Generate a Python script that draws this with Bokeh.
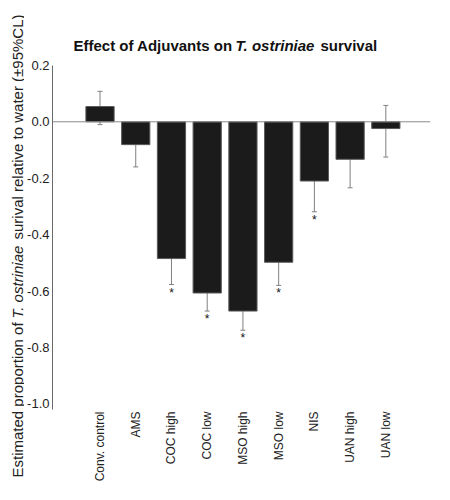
import math
from bokeh.plotting import figure
from bokeh.layouts import row
from bokeh.models import (ColumnDataSource, FixedTicker, Span, Whisker, TeeHead,
                          NumeralTickFormatter, Range1d)
from bokeh.core.properties import value
from bokeh.embed import file_html
from bokeh.resources import INLINE

categories = ["Conv. control", "AMS", "COC high", "COC low", "MSO high",
              "MSO low", "NIS", "UAN high", "UAN low"]
estimate = [0.054, -0.081, -0.485, -0.607, -0.671, -0.498, -0.210, -0.133, -0.024]
lower_cl = [-0.010, -0.160, -0.577, -0.671, -0.739, -0.580, -0.319, -0.234, -0.125]
upper_cl = [0.108, -0.014, -0.380, -0.525, -0.525, -0.403, -0.105, -0.041, 0.058]
significant = [False, False, True, True, True, True, True, False, False]
y_ticks = [0.2, 0.0, -0.2, -0.4, -0.6, -0.8, -1.0]

title_parts = ["Effect of Adjuvants on", "T. ostriniae", "survival"]
title_styles = ["bold", "bold italic", "bold"]
ylabel_parts = ["Estimated proportion of", "T. ostriniae",
                "surival relative to water (\u00b195%CL)"]
ylabel_styles = ["normal", "italic", "normal"]

FONT = "Liberation Sans"
TOTAL_H = 484
YL_W = 24
MAIN_W = 410
X_START, X_END = -1.33, 9.25
Y_START, Y_END = -1.02, 0.43

# --- y-axis title strip (positions are layout pixels, y measured upward) ---
yf = figure(frame_width=YL_W, frame_height=TOTAL_H, output_backend="svg",
            toolbar_location=None, title=None,
            x_axis_location=None, y_axis_location=None,
            x_range=Range1d(0, YL_W), y_range=Range1d(0, TOTAL_H),
            min_border=0, min_border_left=0, min_border_right=0,
            min_border_top=0, min_border_bottom=0)
yf.outline_line_color = None
yf.xgrid.visible = False
yf.ygrid.visible = False
yf.text(x=[17, 17, 17], y=[7, 166, 245], text=ylabel_parts,
        angle=math.pi / 2, text_font=value(FONT), text_font_size="15px",
        text_font_style=ylabel_styles, text_color="#222222",
        text_baseline="alphabetic", text_align="left")

# --- main chart ---
idx = list(range(len(categories)))
src = ColumnDataSource(dict(x=idx, top=estimate, lower=lower_cl, upper=upper_cl,
                            cat=categories))
sig_src = ColumnDataSource(dict(
    x=[i for i, s in zip(idx, significant) if s],
    y=[l for l, s in zip(lower_cl, significant) if s],
    t=["*" for s in significant if s]))

p = figure(width=MAIN_W, height=TOTAL_H, output_backend="svg",
           toolbar_location=None, title=None,
           x_range=Range1d(X_START, X_END), y_range=Range1d(Y_START, Y_END),
           min_border_left=25, min_border_right=4, min_border_top=0,
           min_border_bottom=75)
p.outline_line_color = None
p.xgrid.visible = False
p.ygrid.visible = False
p.background_fill_color = "white"
p.border_fill_color = "white"

p.add_layout(Span(location=0, dimension="width", line_color="#8a8a8a", line_width=1))

p.vbar(x="x", top="top", bottom=0, width=0.79, source=src,
       fill_color="#1b1b1b", line_color="#5a5a5a", line_width=1)

wh = Whisker(base="x", lower="lower", upper="upper", source=src,
             line_color="#808080", line_width=1,
             upper_head=TeeHead(size=5, line_color="#808080", line_width=1),
             lower_head=TeeHead(size=5, line_color="#808080", line_width=1))
p.add_layout(wh)

p.text(x="x", y="y", text="t", source=sig_src, text_align="center",
       text_baseline="top", y_offset=1, text_font_size="12px",
       text_color="#111111", text_font=value(FONT))

# chart title, anchored at the frame's top-left corner with pixel offsets
p.text(x=[X_START] * 3, y=[Y_END] * 3, x_offset=[21, 183, 268],
       y_offset=[45, 45, 45], text=title_parts, text_font=value(FONT),
       text_font_size="15px", text_font_style=title_styles,
       text_color="#111111", text_baseline="alphabetic", text_align="left")

p.yaxis.bounds = (-1.02, 0.2)
p.yaxis.ticker = FixedTicker(ticks=y_ticks)
p.yaxis.formatter = NumeralTickFormatter(format="0.0")
p.yaxis.major_tick_line_color = None
p.yaxis.minor_tick_line_color = None
p.yaxis.major_tick_out = 0
p.yaxis.major_tick_in = 0
p.yaxis.minor_tick_out = 0
p.yaxis.axis_line_color = "#6a6a6a"
p.yaxis.major_label_text_font = FONT
p.yaxis.major_label_text_font_size = "13px"
p.yaxis.major_label_text_color = "#222222"
p.yaxis.major_label_standoff = 3

p.xaxis.ticker = FixedTicker(ticks=idx)
p.xaxis.major_label_overrides = {i: c for i, c in zip(idx, categories)}
p.xaxis.major_label_orientation = math.pi / 2
p.xaxis.axis_line_color = None
p.xaxis.major_tick_line_color = None
p.xaxis.minor_tick_line_color = None
p.xaxis.major_tick_out = 0
p.xaxis.major_tick_in = 0
p.xaxis.minor_tick_out = 0
p.xaxis.major_label_text_font = FONT
p.xaxis.major_label_text_font_size = "12px"
p.xaxis.major_label_text_color = "#222222"
p.xaxis.major_label_standoff = 2

layout = row(yf, p, spacing=0)

open("out.html", "w").write(file_html(layout, INLINE))
